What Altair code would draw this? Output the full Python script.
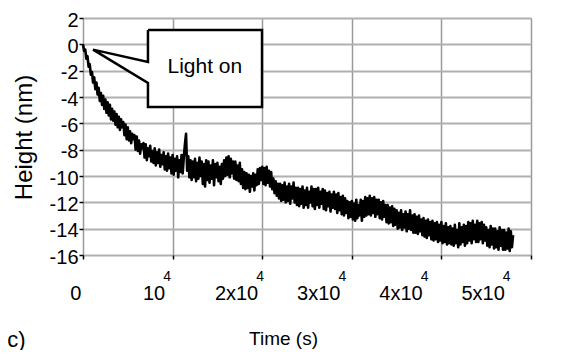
import altair as alt
import pandas as pd

# ---- data (one sample every 125 s) ----
time_s = [i * 125 for i in range(385)]
height_nm = [
    0.0, -0.5, -0.4, -1.1, -0.9, -1.7, -1.5, -2.3,
    -2.1, -2.9, -2.5, -3.4, -2.9, -3.8, -3.3, -4.3,
    -3.7, -4.6, -3.9, -4.9, -4.2, -5.2, -4.4, -5.4,
    -4.6, -5.7, -4.9, -5.8, -5.1, -6.1, -5.3, -6.3,
    -5.5, -6.5, -5.7, -6.3, -5.9, -6.9, -6.1, -7.2,
    -6.3, -7.3, -6.6, -7.5, -6.8, -7.2, -6.9, -8.0,
    -7.0, -8.1, -7.3, -8.3, -7.6, -7.9, -7.5, -8.6,
    -7.6, -8.8, -7.9, -8.5, -7.7, -8.9, -8.1, -9.0,
    -7.9, -9.2, -8.2, -9.0, -8.0, -9.3, -8.4, -9.1,
    -8.2, -9.5, -8.5, -9.6, -8.3, -9.4, -8.6, -9.8,
    -8.4, -9.9, -8.7, -9.6, -8.5, -10.1, -8.8, -9.7,
    -8.4, -9.8, -8.6, -7.6, -6.8, -9.6, -8.5, -10.1,
    -8.8, -10.3, -8.9, -10.1, -8.7, -10.4, -9.0, -10.2,
    -8.6, -10.0, -8.9, -10.6, -9.1, -10.8, -8.8, -10.3,
    -8.9, -10.5, -9.2, -10.2, -8.8, -10.7, -9.1, -10.1,
    -9.0, -10.4, -9.3, -10.6, -9.1, -10.2, -8.8, -10.0,
    -8.6, -9.9, -8.5, -10.1, -8.7, -9.8, -8.9, -10.2,
    -8.9, -10.3, -9.2, -10.4, -9.0, -10.6, -9.5, -10.9,
    -9.7, -11.0, -9.8, -10.9, -9.9, -11.2, -10.0, -10.8,
    -9.8, -11.1, -9.9, -10.7, -9.5, -10.6, -9.4, -10.3,
    -9.3, -10.6, -9.4, -10.7, -9.3, -10.5, -9.6, -10.8,
    -9.7, -11.0, -10.2, -11.3, -10.4, -11.5, -10.6, -11.7,
    -10.6, -11.9, -10.7, -11.8, -10.5, -12.0, -10.8, -11.9,
    -10.6, -12.1, -10.8, -11.7, -10.5, -12.0, -10.9, -12.2,
    -10.9, -12.3, -11.0, -12.1, -10.8, -12.4, -11.1, -12.2,
    -10.9, -12.4, -11.2, -12.0, -10.8, -12.3, -11.0, -12.5,
    -11.0, -12.2, -10.9, -12.4, -11.2, -12.1, -11.0, -12.5,
    -11.1, -12.6, -11.3, -12.3, -11.2, -12.7, -11.4, -12.4,
    -11.2, -12.5, -11.4, -12.8, -11.3, -12.6, -11.6, -12.9,
    -11.5, -13.0, -11.7, -12.8, -11.9, -13.2, -12.0, -13.1,
    -11.9, -13.3, -12.1, -13.4, -11.8, -13.2, -12.2, -13.0,
    -11.8, -13.4, -11.9, -13.1, -11.6, -13.0, -11.7, -12.9,
    -11.5, -13.0, -11.7, -12.8, -11.6, -13.1, -11.8, -12.9,
    -11.8, -13.2, -12.0, -13.3, -11.9, -13.1, -12.2, -13.5,
    -12.2, -13.6, -12.4, -13.5, -12.3, -13.8, -12.5, -13.7,
    -12.6, -14.0, -12.8, -13.9, -12.6, -14.1, -12.9, -13.9,
    -12.7, -14.2, -12.9, -14.0, -12.6, -14.1, -13.0, -14.3,
    -12.9, -14.3, -13.1, -14.4, -13.0, -14.2, -13.3, -14.5,
    -13.2, -14.6, -13.4, -14.7, -13.3, -14.5, -13.5, -14.8,
    -13.4, -14.9, -13.6, -14.8, -13.5, -15.0, -13.7, -14.9,
    -13.5, -15.1, -13.8, -15.0, -13.6, -15.2, -13.9, -15.1,
    -13.8, -15.2, -14.0, -15.3, -13.7, -15.1, -14.1, -15.4,
    -13.6, -15.2, -13.9, -15.0, -13.7, -15.3, -13.8, -15.1,
    -13.5, -14.9, -13.6, -15.1, -13.4, -14.8, -13.7, -15.0,
    -13.4, -15.0, -13.6, -14.8, -13.5, -15.1, -13.7, -14.9,
    -13.9, -15.3, -14.1, -15.4, -13.8, -15.2, -14.0, -15.5,
    -14.0, -15.4, -14.2, -15.6, -13.9, -15.3, -14.1, -15.6,
    -14.1, -15.6, -14.3, -15.5, -14.0, -15.7, -14.2, -15.4,
    -14.5,
]

x_ticks = [0, 10000, 20000, 30000, 40000, 50000]
x_tick_base = ["0", "10", "2x10", "3x10", "4x10", "5x10"]
x_tick_exp = ["", "4", "4", "4", "4", "4"]
y_ticks = [-16, -14, -12, -10, -8, -6, -4, -2, 0, 2]

callout_text = ["Light on"]
callout_text_t = [13600]
callout_text_h = [-2.2]
box_t = [7250]
box_t2 = [19980]
box_h = [1.09]
box_h2 = [-4.76]
pointer_t = [1120, 7250]
pointer_hi = [-0.4, -1.34]
pointer_lo = [-0.4, -2.94]
outline_t = [7250, 19980, 19980, 7250, 7250, 1120, 7250, 7250]
outline_h = [1.09, 1.09, -4.76, -4.76, -2.94, -0.4, -1.34, 1.09]

FONT = "Liberation Sans"

df = pd.DataFrame({"t": time_s, "h": height_nm})
xs = alt.Scale(domain=[0, 50000], nice=False, zero=False)
ys = alt.Scale(domain=[-16, 2], nice=False, zero=False)

xaxis = alt.Axis(
    values=x_ticks, labels=False, title="Time (s)", grid=True,
    gridColor="#999999", gridWidth=1.5, domain=False, ticks=True,
    tickSize=4, tickColor="black", tickWidth=1.5,
    titleFont=FONT, titleFontSize=19, titleFontWeight="normal",
    titleColor="black", titleX=200, titleY=83, titleBaseline="middle",
    titleAlign="center",
)
yaxis = alt.Axis(
    values=y_ticks, title="Height (nm)", grid=True, gridColor="#b0b0b0",
    gridWidth=2, domain=False, ticks=True, tickSize=4, tickColor="black",
    tickWidth=1.5, labelExpr="'' + datum.value", labelFont=FONT,
    labelFontSize=20, labelColor="black", labelPadding=1, labelOffset=2,
    labelBaseline="middle", labelOverlap=False, labelFlush=False,
    titleFont=FONT, titleFontSize=24, titleFontWeight="normal",
    titleColor="black", titleX=-59, titleY=119, titleAngle=270,
    titleBaseline="middle", titleAlign="center",
)


def X(field):
    return alt.X(field, scale=xs, axis=xaxis)


def Y(field):
    return alt.Y(field, scale=ys, axis=yaxis)


line = alt.Chart(df).mark_line(color="black", strokeWidth=2.6, strokeJoin="round").encode(
    x=X("t:Q"), y=Y("h:Q"),
)

box = alt.Chart(pd.DataFrame({"t": box_t, "t2": box_t2, "h": box_h, "h2": box_h2})).mark_rect(
    fill="white"
).encode(x=X("t:Q"), x2="t2", y=Y("h:Q"), y2="h2")

pointer = alt.Chart(pd.DataFrame({"t": pointer_t, "h": pointer_hi, "h2": pointer_lo})).mark_area(
    color="white", opacity=1
).encode(x=X("t:Q"), y=Y("h:Q"), y2="h2")

outline = alt.Chart(pd.DataFrame({"t": outline_t, "h": outline_h, "o": list(range(len(outline_t)))})).mark_line(
    color="black", strokeWidth=2.5, strokeJoin="miter"
).encode(x=X("t:Q"), y=Y("h:Q"), order="o:Q")

ctext = alt.Chart(pd.DataFrame({"t": callout_text_t, "h": callout_text_h, "s": callout_text})).mark_text(
    font=FONT, fontSize=21, color="black", baseline="alphabetic", align="center"
).encode(x=X("t:Q"), y=Y("h:Q"), text="s:N")

# x tick labels (base + raised exponent)
ticks_df = pd.DataFrame({"v": x_ticks, "base": x_tick_base, "exp": x_tick_exp})
PX = 50000 / 448.0
lab = alt.Chart(ticks_df).transform_calculate(
    ct="datum.v * 0.9174 - 781",
).transform_calculate(
    jt=f"datum.ct + (length(datum.base) * 10.8 - (datum.exp ? 7.5 : 0)) / 2 * {PX}",
)
base_lab = lab.mark_text(
    font=FONT, fontSize=20, color="black", align="right", baseline="middle"
).encode(x=X("jt:Q"), y=alt.value(276), text="base:N")
exp_lab = lab.mark_text(
    font=FONT, fontSize=14, color="black", align="left", baseline="middle", dx=-2
).encode(x=X("jt:Q"), y=alt.value(259), text="exp:N")

chart = alt.layer(line, box, pointer, outline, ctext, base_lab, exp_lab).properties(
    width=448, height=237,
    autosize=alt.AutoSizeParams(type="none"),
    padding={"left": 75, "top": 10, "right": 25, "bottom": 95},
    title=alt.TitleParams(
        "(c)", orient="bottom", anchor="start", frame="group", dx=-83, dy=-22,
        font=FONT, fontSize=22, fontWeight="normal", color="black",
    ),
).configure_view(stroke="black", strokeWidth=3).configure_axisY(
    labelOverlap=False
).configure(background="white")

chart.save("out.html", embed_options={"renderer": "svg", "actions": False})
